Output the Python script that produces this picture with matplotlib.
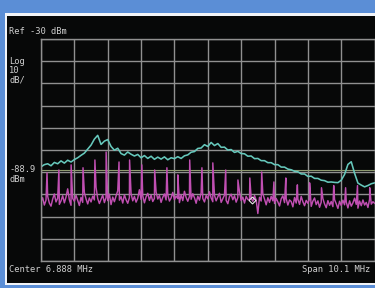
import numpy as np
import matplotlib
matplotlib.use("Agg")
import matplotlib.pyplot as plt
from matplotlib.patches import Rectangle

# analyzer settings
REF_LEVEL = -30.0      # dBm, top of screen
DB_PER_DIV = 10.0
CENTER = 6.888         # MHz
SPAN = 10.1            # MHz
DISPLAY_LINE = -88.9   # dBm

# cyan trace (max hold), one value every 0.1 division
cyan_db = [
    -87.6, -86.6, -86.2, -87.1, -85.6, -86.2, -84.9, -85.9, -84.6, -85.4,
    -84.3, -83.5, -82.4, -81.4, -79.6, -77.8, -75.1, -73.4, -77.5, -76.0,
    -75.3, -78.4, -80.1, -79.2, -81.6, -82.3, -80.9, -81.9, -82.7, -82.0,
    -83.5, -82.5, -83.8, -82.8, -84.2, -83.2, -84.1, -83.1, -84.4, -83.5,
    -83.9, -83.0, -83.8, -82.6, -82.2, -81.0, -80.7, -79.3, -79.1, -77.6,
    -78.4, -76.6, -78.0, -77.1, -78.8, -78.7, -80.0, -79.8, -81.1, -80.6,
    -81.6, -81.7, -82.8, -82.7, -83.9, -83.8, -84.8, -84.8, -85.7, -85.7,
    -86.6, -86.6, -87.7, -87.7, -88.6, -88.9, -89.6, -89.8, -90.8, -90.8,
    -91.9, -91.8, -92.8, -92.8, -93.6, -93.8, -94.5, -94.4, -94.6, -94.7,
    -93.6, -91.0, -86.5, -85.3, -90.5, -94.9, -95.8, -96.6, -96.0, -95.2,
    -94.8,
]

# magenta trace floor, one value every 0.05 division
magenta_db = [
    -103.2, -101.5, -104.8, -102.6, -100.9, -103.9, -105.3, -102.1, -99.8, -103.4,
    -101.7, -104.5, -102.9, -100.6, -103.8, -101.2, -97.5, -102.4, -104.9, -101.8,
    -103.1, -100.4, -102.7, -105.0, -101.3, -103.6, -99.2, -102.0, -104.3, -101.6,
    -103.4, -100.8, -102.5, -96.8, -101.9, -104.1, -102.2, -100.3, -103.7, -101.4,
    -102.8, -99.9, -104.6, -101.2, -103.3, -100.7, -98.4, -102.6, -101.0, -103.9,
    -100.2, -102.4, -104.0, -101.5, -99.6, -102.9, -100.9, -103.5, -101.7, -97.9,
    -102.3, -100.6, -103.8, -101.1, -99.5, -102.7, -100.3, -103.2, -101.8, -98.9,
    -102.1, -100.5, -103.6, -101.3, -99.8, -102.5, -100.1, -103.0, -101.6, -99.1,
    -102.4, -100.7, -101.9, -103.7, -100.2, -102.8, -98.6, -101.4, -103.1, -100.9,
    -102.2, -99.7, -101.5, -104.0, -100.8, -102.6, -99.3, -101.8, -103.4, -100.5,
    -102.0, -98.8, -101.6, -103.3, -100.4, -102.9, -101.1, -99.5, -103.6, -101.9,
    -100.3, -102.7, -104.2, -101.0, -99.9, -102.4, -100.6, -103.5, -101.4, -98.7,
    -102.8, -101.2, -103.9, -100.9, -102.3, -102.5, -101.7, -103.1, -100.5, -102.6,
    -108.6, -101.3, -103.0, -99.8, -102.1, -104.7, -101.5, -103.6, -100.9, -102.9,
    -104.1, -101.8, -103.4, -105.2, -102.0, -100.6, -103.7, -101.9, -104.8, -102.5,
    -103.2, -105.6, -101.4, -103.9, -102.2, -104.5, -100.9, -103.3, -105.1, -102.7,
    -104.0, -102.1, -105.4, -103.0, -101.6, -104.6, -102.9, -105.8, -103.5, -101.9,
    -104.3, -106.0, -102.8, -104.9, -103.2, -105.5, -102.4, -104.2, -106.3, -103.1,
    -105.0, -102.6, -104.7, -103.4, -106.1, -102.9, -105.3, -103.8, -101.7, -104.5,
    -106.2, -103.0, -105.1, -102.5, -104.8, -103.6, -105.9, -102.2, -104.4, -103.3,
    -104.0,
]

# harmonic spurs on the magenta trace
spur_mhz = [2.02, 2.38, 2.75, 3.11, 3.47, 3.81, 4.20, 4.52, 4.89, 5.28,
            5.65, 5.98, 6.34, 6.71, 7.04, 7.43, 7.80, 8.16, 8.52, 8.89,
            9.25, 9.60, 9.97, 10.33, 10.70, 11.06, 11.42, 11.79]
spur_db = [-90.3, -89.0, -86.7, -88.0, -84.5, -80.9, -85.4, -84.5, -86.7, -89.0,
           -88.0, -91.2, -84.5, -88.0, -85.8, -89.0, -93.5, -92.6, -89.9, -94.4,
           -92.6, -95.7, -94.8, -97.0, -96.0, -97.0, -96.0, -97.0]

marker_mhz = 8.22
marker_db = -102.7

#-------------------------------------------------------------------------------
f_start = CENTER - SPAN / 2
f_stop = CENTER + SPAN / 2
cyan_f = np.linspace(f_start, f_stop, len(cyan_db))
mag_f = np.linspace(f_start, f_stop, len(magenta_db))

# merge spurs into the floor samples
mf = np.concatenate([mag_f, spur_mhz])
md = np.concatenate([magenta_db, spur_db])
order = np.argsort(mf)
mf, md = mf[order], md[order]

W, H = 375, 288
fig = plt.figure(figsize=(W / 100, H / 100), dpi=100, facecolor='#5b8ed6')

def fx(x):
    return x / W

def fy(y):
    return 1 - y / H

# white frame and black screen
fig.patches.append(Rectangle((fx(5), fy(285)), fx(380) - fx(5), fy(13) - fy(285),
                             transform=fig.transFigure, facecolor='#f2f4f8',
                             edgecolor='none', zorder=-3))
fig.patches.append(Rectangle((fx(7), fy(283)), fx(380) - fx(7), fy(16) - fy(283),
                             transform=fig.transFigure, facecolor='#070808',
                             edgecolor='none', zorder=-2))

ax = fig.add_axes([fx(41), fy(261), fx(374.6) - fx(41), fy(39) - fy(261)])
ax.set_facecolor('none')
ax.set_xlim(f_start, f_stop)
ax.set_ylim(REF_LEVEL - 10 * DB_PER_DIV, REF_LEVEL)
ax.set_xticks(np.linspace(f_start, f_stop, 11))
ax.set_yticks(np.linspace(REF_LEVEL - 10 * DB_PER_DIV, REF_LEVEL, 11))
ax.tick_params(length=0, labelbottom=False, labelleft=False)
ax.grid(True, color='#909090', linewidth=1.0)
for s in ax.spines.values():
    s.set_color('#909090')
    s.set_linewidth(1.0)

ax.axhline(DISPLAY_LINE, color='#8e9a70', linewidth=0.8)
ax.plot(mf, md, color='#c04fb2', linewidth=1.05)
ax.plot(cyan_f, cyan_db, color='#66c8bc', linewidth=1.15)
ax.plot([marker_mhz], [marker_db], marker='D', markersize=3.5, mfc='none',
        mec='#e8e8e8', mew=0.8)

txt = dict(color='#cfcfcf', fontsize=6.3, family='DejaVu Sans Mono')
fig.text(fx(9), fy(32), f'Ref {REF_LEVEL:.0f} dBm', va='center', **txt)
fig.text(fx(9), fy(61), 'Log', va='center', **txt)
fig.text(fx(9), fy(70.5), f'{DB_PER_DIV:.0f}', va='center', **txt)
fig.text(fx(9), fy(80), 'dB/', va='center', **txt)
fig.text(fx(9), fy(169), f'{DISPLAY_LINE:.1f}', va='center', **txt)
fig.text(fx(9), fy(180), 'dBm', va='center', **txt)
fig.text(fx(9), fy(270), f'Center {CENTER:.3f} MHz', va='center', **txt)
fig.text(fx(370), fy(270), f'Span {SPAN:.1f} MHz', va='center', ha='right', **txt)

fig.savefig('out.png', dpi=100, facecolor=fig.get_facecolor())
